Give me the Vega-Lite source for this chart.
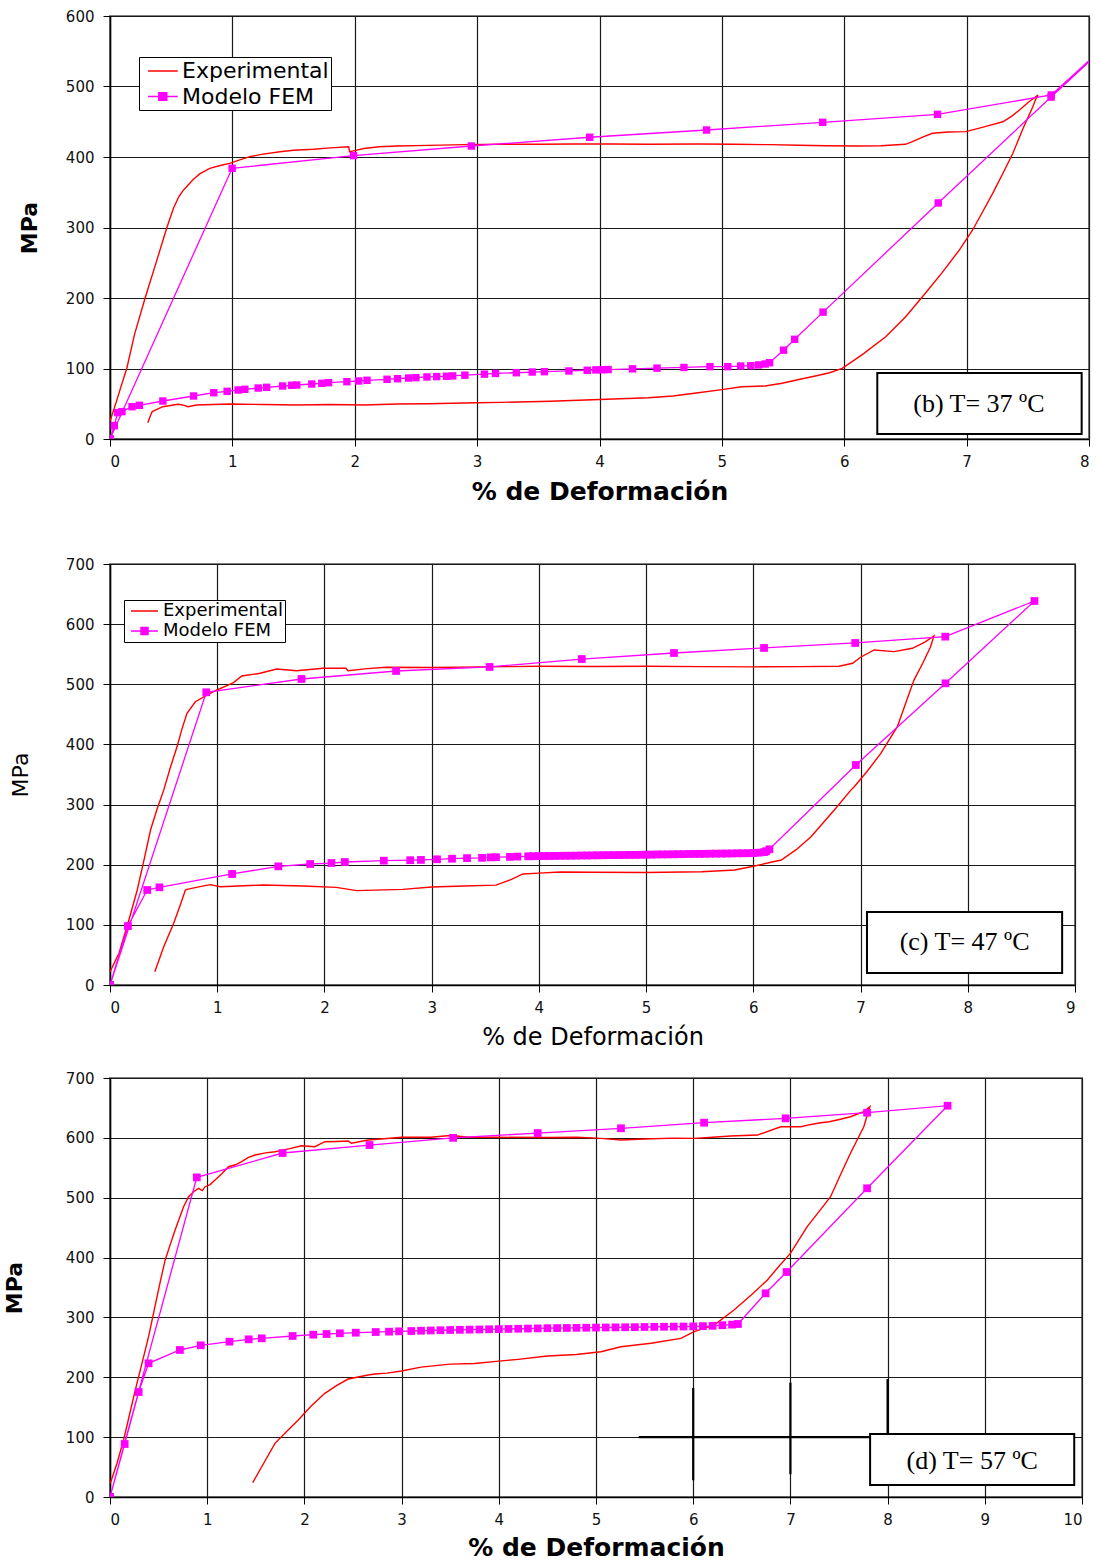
{
"$schema": "https://vega.github.io/schema/vega-lite/v6.json",
"padding": {"left": 2, "top": 8, "right": 5, "bottom": 2},
"background": "white",
"config": {
  "view": {"stroke": "#808080", "strokeWidth": 2},
  "axis": {"grid": true, "gridColor": "#1a1a1a", "gridWidth": 1.2, "domainColor": "black", "domainWidth": 1.5, "tickColor": "black", "tickSize": 7, "labelFont": "DejaVu Sans", "labelFontSize": 15, "labelColor": "#111111", "titleColor": "black", "titleFont": "DejaVu Sans"}
},
"datasets": {
  "e1": [{"x":0,"y":25},{"x":0.05,"y":52},{"x":0.1,"y":80},{"x":0.137,"y":100},{"x":0.2,"y":148},{"x":0.287,"y":200},{"x":0.38,"y":252},{"x":0.465,"y":300},{"x":0.52,"y":328},{"x":0.563,"y":344},{"x":0.6,"y":353},{"x":0.637,"y":360},{"x":0.68,"y":368},{"x":0.733,"y":376},{"x":0.815,"y":384},{"x":0.9,"y":388},{"x":0.979,"y":391},{"x":1.06,"y":396},{"x":1.143,"y":400.5},{"x":1.25,"y":404},{"x":1.389,"y":407.5},{"x":1.5,"y":409.5},{"x":1.663,"y":411},{"x":1.8,"y":413},{"x":1.95,"y":414.6},{"x":1.958,"y":407.5},{"x":2.0,"y":409},{"x":2.073,"y":412},{"x":2.2,"y":414.5},{"x":2.346,"y":415.6},{"x":2.6,"y":416.5},{"x":2.9,"y":417.5},{"x":3.2,"y":418},{"x":3.5,"y":418},{"x":3.8,"y":418.5},{"x":4.1,"y":418.5},{"x":4.4,"y":418},{"x":4.807,"y":418.4},{"x":5.1,"y":418},{"x":5.4,"y":417.5},{"x":5.628,"y":416.6},{"x":5.85,"y":416},{"x":6.093,"y":415.6},{"x":6.3,"y":416},{"x":6.5,"y":418},{"x":6.557,"y":421.7},{"x":6.585,"y":424},{"x":6.65,"y":429},{"x":6.721,"y":433.6},{"x":6.85,"y":435.5},{"x":6.995,"y":436},{"x":7.15,"y":443},{"x":7.296,"y":450},{"x":7.37,"y":458},{"x":7.432,"y":466.7},{"x":7.5,"y":477},{"x":7.583,"y":488},{"x":7.56,"y":480},{"x":7.54,"y":471},{"x":7.46,"y":440},{"x":7.377,"y":405},{"x":7.3,"y":378},{"x":7.213,"y":348.5},{"x":7.13,"y":322},{"x":7.049,"y":296.5},{"x":6.94,"y":268},{"x":6.8,"y":236},{"x":6.639,"y":201.8},{"x":6.5,"y":173},{"x":6.339,"y":145},{"x":6.15,"y":120},{"x":5.983,"y":100.2},{"x":5.88,"y":94},{"x":5.764,"y":89.4},{"x":5.62,"y":84},{"x":5.491,"y":79},{"x":5.354,"y":75.2},{"x":5.162,"y":74.2},{"x":5.0,"y":70},{"x":4.807,"y":65.7},{"x":4.6,"y":61},{"x":4.4,"y":58.5},{"x":4.0,"y":56},{"x":3.6,"y":53.5},{"x":3.2,"y":52},{"x":3.0,"y":51.5},{"x":2.6,"y":50},{"x":2.346,"y":49.6},{"x":2.073,"y":48.2},{"x":1.8,"y":49},{"x":1.526,"y":48.2},{"x":1.252,"y":49},{"x":0.979,"y":49.6},{"x":0.705,"y":48.2},{"x":0.637,"y":45.8},{"x":0.6,"y":48},{"x":0.555,"y":49.2},{"x":0.432,"y":45.8},{"x":0.345,"y":38.8},{"x":0.33,"y":33},{"x":0.309,"y":23}],
  "f1": [{"x":0,"y":0},{"x":0.998,"y":384},{"x":1.99,"y":402},{"x":2.953,"y":415.6},{"x":3.92,"y":428},{"x":4.875,"y":438.3},{"x":5.824,"y":449.2},{"x":6.762,"y":460.5},{"x":7.692,"y":488},{"x":8.6,"y":632},{"x":7.69,"y":485},{"x":6.768,"y":334.8},{"x":5.827,"y":180},{"x":5.595,"y":141.4},{"x":5.504,"y":126},{"x":5.39,"y":108.2},{"x":5.354,"y":106.4},{"x":5.3,"y":105},{"x":5.236,"y":104},{"x":5.154,"y":103.5},{"x":5.048,"y":102.6},{"x":4.903,"y":102.6},{"x":4.69,"y":101.5},{"x":4.47,"y":100.5},{"x":4.27,"y":99.5},{"x":4.07,"y":98.5},{"x":4.02,"y":98.2},{"x":3.97,"y":98},{"x":3.9,"y":97.5},{"x":3.75,"y":96.5},{"x":3.55,"y":95.5},{"x":3.45,"y":95},{"x":3.32,"y":94},{"x":3.15,"y":93},{"x":3.06,"y":92},{"x":2.9,"y":90.5},{"x":2.8,"y":89.5},{"x":2.75,"y":89},{"x":2.67,"y":88.5},{"x":2.59,"y":88},{"x":2.5,"y":87},{"x":2.44,"y":86.5},{"x":2.35,"y":85.5},{"x":2.264,"y":84.7},{"x":2.1,"y":83.3},{"x":2.032,"y":82.3},{"x":1.936,"y":81.3},{"x":1.786,"y":79.9},{"x":1.731,"y":79},{"x":1.649,"y":78},{"x":1.526,"y":76.6},{"x":1.485,"y":76.2},{"x":1.411,"y":75.2},{"x":1.28,"y":73.3},{"x":1.211,"y":72.3},{"x":1.102,"y":70.5},{"x":1.047,"y":69.5},{"x":0.957,"y":67.6},{"x":0.848,"y":65.7},{"x":0.683,"y":61},{"x":0.432,"y":53.9},{"x":0.24,"y":47.8},{"x":0.18,"y":45.8},{"x":0.098,"y":38.8},{"x":0.063,"y":37.4},{"x":0.035,"y":18.9},{"x":0,"y":0}],
  "e2": [{"x":0,"y":22},{"x":0.084,"y":52.7},{"x":0.176,"y":108},{"x":0.254,"y":158},{"x":0.32,"y":210},{"x":0.378,"y":257.7},{"x":0.44,"y":293},{"x":0.501,"y":324},{"x":0.56,"y":360},{"x":0.625,"y":396},{"x":0.67,"y":425},{"x":0.718,"y":451.8},{"x":0.796,"y":471},{"x":0.904,"y":482},{"x":0.997,"y":490.5},{"x":1.08,"y":497},{"x":1.152,"y":502.7},{"x":1.229,"y":513.8},{"x":1.4,"y":518.3},{"x":1.554,"y":525.5},{"x":1.74,"y":522.6},{"x":1.988,"y":526.6},{"x":2.2,"y":526.6},{"x":2.22,"y":522.6},{"x":2.4,"y":526},{"x":2.575,"y":528.3},{"x":3.0,"y":528},{"x":3.5,"y":529},{"x":4.0,"y":530},{"x":4.5,"y":529.5},{"x":5.0,"y":530},{"x":5.517,"y":529.3},{"x":6.0,"y":529},{"x":6.446,"y":529.3},{"x":6.8,"y":530},{"x":6.926,"y":534.9},{"x":7.0,"y":545},{"x":7.127,"y":557},{"x":7.312,"y":554.3},{"x":7.483,"y":559.9},{"x":7.6,"y":570},{"x":7.684,"y":580.3},{"x":7.653,"y":562.5},{"x":7.58,"y":535},{"x":7.498,"y":507},{"x":7.42,"y":468},{"x":7.343,"y":429.5},{"x":7.189,"y":385},{"x":7.06,"y":355},{"x":6.941,"y":329.7},{"x":6.91,"y":324},{"x":6.755,"y":291},{"x":6.538,"y":246.6},{"x":6.4,"y":225},{"x":6.26,"y":207.8},{"x":6.012,"y":197.9},{"x":5.826,"y":191.2},{"x":5.517,"y":188.4},{"x":5.0,"y":187},{"x":4.5,"y":187.5},{"x":4.2,"y":188},{"x":4.0,"y":186},{"x":3.85,"y":184.6},{"x":3.75,"y":176},{"x":3.6,"y":166},{"x":3.3,"y":164.5},{"x":3.0,"y":163},{"x":2.73,"y":159},{"x":2.3,"y":157},{"x":2.11,"y":162.4},{"x":1.8,"y":164.6},{"x":1.43,"y":166.3},{"x":1.028,"y":163.4},{"x":0.935,"y":166.8},{"x":0.85,"y":164},{"x":0.718,"y":159},{"x":0.703,"y":158},{"x":0.65,"y":130},{"x":0.594,"y":102.6},{"x":0.501,"y":63.7},{"x":0.418,"y":22}],
  "f2": [{"x":0,"y":0},{"x":0.898,"y":486.7},{"x":1.786,"y":508.8},{"x":2.668,"y":522.1},{"x":3.54,"y":528.8},{"x":4.4,"y":542},{"x":5.26,"y":552},{"x":6.1,"y":560.4},{"x":6.95,"y":568.7},{"x":7.79,"y":579.2},{"x":8.622,"y":638.5},{"x":7.792,"y":501.6},{"x":6.956,"y":365.8},{"x":6.15,"y":225.6},{"x":6.12,"y":222.5},{"x":6.1,"y":221},{"x":6.05,"y":220},{"x":6.0,"y":219.5},{"x":5.95,"y":219.2},{"x":5.9,"y":219},{"x":5.85,"y":218.9},{"x":5.8,"y":218.8},{"x":5.75,"y":218.6},{"x":5.7,"y":218.5},{"x":5.65,"y":218.4},{"x":5.6,"y":218.3},{"x":5.55,"y":218.1},{"x":5.5,"y":218},{"x":5.45,"y":217.9},{"x":5.4,"y":217.8},{"x":5.35,"y":217.6},{"x":5.3,"y":217.5},{"x":5.25,"y":217.3},{"x":5.2,"y":217.2},{"x":5.15,"y":217.1},{"x":5.1,"y":217},{"x":5.05,"y":216.8},{"x":5.0,"y":216.7},{"x":4.95,"y":216.5},{"x":4.9,"y":216.4},{"x":4.85,"y":216.3},{"x":4.8,"y":216.2},{"x":4.75,"y":216.1},{"x":4.7,"y":216},{"x":4.65,"y":215.9},{"x":4.6,"y":215.8},{"x":4.55,"y":215.6},{"x":4.5,"y":215.5},{"x":4.45,"y":215.4},{"x":4.4,"y":215.3},{"x":4.35,"y":215.1},{"x":4.3,"y":215},{"x":4.25,"y":214.9},{"x":4.2,"y":214.8},{"x":4.15,"y":214.6},{"x":4.1,"y":214.5},{"x":4.05,"y":214.4},{"x":4.0,"y":214.3},{"x":3.95,"y":214.1},{"x":3.9,"y":214},{"x":3.8,"y":213.5},{"x":3.73,"y":213},{"x":3.6,"y":212.5},{"x":3.55,"y":212.2},{"x":3.47,"y":211.5},{"x":3.33,"y":211},{"x":3.19,"y":210},{"x":3.05,"y":209},{"x":2.9,"y":208},{"x":2.8,"y":207.5},{"x":2.554,"y":206.7},{"x":2.19,"y":204.5},{"x":2.065,"y":202.8},{"x":1.867,"y":201.2},{"x":1.57,"y":197.3},{"x":1.139,"y":184.6},{"x":0.461,"y":162.4},{"x":0.347,"y":158},{"x":0.167,"y":98},{"x":0,"y":0}],
  "e3": [{"x":0.003,"y":22.9},{"x":0.072,"y":56.3},{"x":0.14,"y":95.2},{"x":0.2,"y":137},{"x":0.26,"y":178.7},{"x":0.33,"y":224},{"x":0.397,"y":267.8},{"x":0.465,"y":320},{"x":0.52,"y":362},{"x":0.568,"y":396},{"x":0.62,"y":422},{"x":0.67,"y":446},{"x":0.757,"y":485},{"x":0.808,"y":501.7},{"x":0.86,"y":510},{"x":0.911,"y":515.7},{"x":0.95,"y":512},{"x":0.978,"y":518.4},{"x":1.03,"y":522},{"x":1.081,"y":529.6},{"x":1.15,"y":540},{"x":1.219,"y":551.8},{"x":1.29,"y":555},{"x":1.355,"y":560.2},{"x":1.42,"y":567},{"x":1.492,"y":571.3},{"x":1.6,"y":575},{"x":1.697,"y":576.9},{"x":1.85,"y":582},{"x":1.971,"y":586.9},{"x":2.108,"y":585.2},{"x":2.21,"y":593.5},{"x":2.33,"y":594},{"x":2.45,"y":594.7},{"x":2.485,"y":590.9},{"x":2.656,"y":596.4},{"x":2.85,"y":599},{"x":3.0,"y":600.9},{"x":3.3,"y":601},{"x":3.5,"y":604},{"x":3.7,"y":601},{"x":4.0,"y":601},{"x":4.5,"y":600.5},{"x":4.8,"y":601},{"x":5.051,"y":599.2},{"x":5.257,"y":596.4},{"x":5.5,"y":598},{"x":5.8,"y":599.5},{"x":6.01,"y":599.2},{"x":6.2,"y":601},{"x":6.386,"y":603},{"x":6.66,"y":604.7},{"x":6.9,"y":618.6},{"x":7.105,"y":618.6},{"x":7.2,"y":622},{"x":7.31,"y":625.3},{"x":7.4,"y":627},{"x":7.515,"y":631},{"x":7.618,"y":635.3},{"x":7.755,"y":643.7},{"x":7.817,"y":652},{"x":7.755,"y":618.6},{"x":7.618,"y":574.2},{"x":7.52,"y":540},{"x":7.413,"y":501.7},{"x":7.3,"y":478},{"x":7.173,"y":451.6},{"x":7.0,"y":407},{"x":6.88,"y":385},{"x":6.763,"y":362.5},{"x":6.6,"y":338},{"x":6.42,"y":312.4},{"x":6.215,"y":287.3},{"x":6.01,"y":276.2},{"x":5.873,"y":265.1},{"x":5.565,"y":256.8},{"x":5.257,"y":251.1},{"x":5.051,"y":242.7},{"x":4.8,"y":238},{"x":4.5,"y":235.5},{"x":4.2,"y":230},{"x":4.0,"y":227},{"x":3.75,"y":223},{"x":3.5,"y":222},{"x":3.2,"y":217},{"x":2.998,"y":210.5},{"x":2.85,"y":207},{"x":2.724,"y":205.5},{"x":2.656,"y":203.8},{"x":2.45,"y":197.1},{"x":2.33,"y":186},{"x":2.21,"y":173.2},{"x":2.07,"y":152},{"x":1.937,"y":128.6},{"x":1.82,"y":110},{"x":1.697,"y":89.7},{"x":1.58,"y":56},{"x":1.468,"y":23.9}],
  "f3": [{"x":0,"y":0},{"x":0.893,"y":534},{"x":1.776,"y":574.7},{"x":2.67,"y":588},{"x":3.53,"y":600},{"x":4.4,"y":608},{"x":5.257,"y":616},{"x":6.112,"y":625.3},{"x":6.951,"y":632.6},{"x":7.789,"y":642},{"x":8.617,"y":653.7},{"x":7.789,"y":515.7},{"x":6.961,"y":375.9},{"x":6.745,"y":340.3},{"x":6.46,"y":289},{"x":6.4,"y":288},{"x":6.3,"y":287},{"x":6.2,"y":286},{"x":6.1,"y":285.5},{"x":6.0,"y":285},{"x":5.9,"y":284.8},{"x":5.8,"y":284.6},{"x":5.7,"y":284.4},{"x":5.6,"y":284.2},{"x":5.5,"y":284},{"x":5.4,"y":283.8},{"x":5.3,"y":283.6},{"x":5.2,"y":283.4},{"x":5.1,"y":283.2},{"x":5.0,"y":283},{"x":4.9,"y":282.8},{"x":4.8,"y":282.6},{"x":4.7,"y":282.4},{"x":4.6,"y":282.2},{"x":4.5,"y":282},{"x":4.4,"y":281.7},{"x":4.3,"y":281.4},{"x":4.2,"y":281.1},{"x":4.1,"y":280.8},{"x":4.0,"y":280.5},{"x":3.9,"y":280.2},{"x":3.8,"y":279.9},{"x":3.7,"y":279.6},{"x":3.6,"y":279.3},{"x":3.5,"y":279},{"x":3.4,"y":278.6},{"x":3.3,"y":278.2},{"x":3.2,"y":277.8},{"x":3.1,"y":277.3},{"x":2.974,"y":276.8},{"x":2.871,"y":276.2},{"x":2.734,"y":275.6},{"x":2.529,"y":274.5},{"x":2.365,"y":273.5},{"x":2.228,"y":272.3},{"x":2.091,"y":271.2},{"x":1.879,"y":269},{"x":1.561,"y":265.1},{"x":1.427,"y":263.4},{"x":1.229,"y":259.5},{"x":0.934,"y":253.4},{"x":0.719,"y":245.6},{"x":0.397,"y":223.3},{"x":0.295,"y":175.4},{"x":0.151,"y":88.5},{"x":0,"y":0}],
  "cross": [{"x":5.44,"y":100,"x2":8.0,"y2":100},{"x":6,"y":182,"x2":6,"y2":28},{"x":7,"y":191,"x2":7,"y2":38},{"x":8,"y":197,"x2":8,"y2":100}]
},
"spacing": 51,
"resolve": {"scale": {"color": "independent"}, "legend": {"color": "independent"}},
"vconcat": [
  {
    "width": 979, "height": 423,
    "layer": [
      {"data": {"name": "e1"}, "mark": {"type": "line", "strokeWidth": 1.4, "clip": true, "order": false},
       "encoding": {
         "x": {"field": "x", "type": "quantitative", "scale": {"domain": [0, 8], "nice": false, "zero": false}, "axis": {"values": [0,1,2,3,4,5,6,7,8], "format": "d", "title": "% de Deformación", "titleFontSize": 25, "titleFontWeight": "bold", "titlePadding": 10, "labelPadding": 8}},
         "y": {"field": "y", "type": "quantitative", "scale": {"domain": [0, 600], "nice": false}, "axis": {"values": [0,100,200,300,400,500,600], "format": "d", "title": "MPa", "titleFontSize": 22, "titleFontWeight": "bold", "titlePadding": 24, "labelPadding": 9}},
         "color": {"datum": "Experimental", "scale": {"domain": ["Experimental", "Modelo FEM"], "range": ["#ff0000", "#ff00ff"]},
           "legend": {"orient": "none", "legendX": 29, "legendY": 41, "title": null, "fillColor": "white", "strokeColor": "black", "padding": 2, "labelFont": "DejaVu Sans", "labelFontSize": 22, "labelColor": "black", "labelOffset": 17, "symbolSize": 484, "symbolStrokeWidth": 1.5, "rowPadding": 2.5,
             "encoding": {"symbols": {"shape": {"value": {"expr": "datum.value === 'Modelo FEM' ? 'M-0.45,0H2.25M0.53,-0.33H1.25V0.33H0.53Z' : 'M-0.45,0H2.25'"}}, "fill": {"value": {"expr": "datum.value === 'Modelo FEM' ? '#ff00ff' : 'transparent'"}}, "stroke": {"value": {"expr": "datum.value === 'Modelo FEM' ? '#ff00ff' : '#ff0000'"}}}}}}
       }},
      {"data": {"name": "f1"}, "mark": {"type": "line", "strokeWidth": 1.3, "clip": true, "order": false},
       "encoding": {"x": {"field": "x", "type": "quantitative"}, "y": {"field": "y", "type": "quantitative"}, "color": {"datum": "Modelo FEM"}}},
      {"data": {"name": "f1"}, "mark": {"type": "point", "shape": "square", "filled": true, "color": "#ff00ff", "size": 55, "opacity": 1, "clip": true},
       "encoding": {"x": {"field": "x", "type": "quantitative"}, "y": {"field": "y", "type": "quantitative"}}},
      {"data": {"values": [{}]}, "mark": {"type": "rect", "fill": "white", "stroke": "black", "strokeWidth": 2},
       "encoding": {"x": {"datum": 6.27, "type": "quantitative"}, "x2": {"datum": 7.94}, "y": {"datum": 93.6, "type": "quantitative"}, "y2": {"datum": 7.1}}},
      {"data": {"values": [{}]}, "mark": {"type": "text", "text": "(b) T= 37 ºC", "font": "Liberation Serif", "fontSize": 26, "color": "black", "align": "center", "baseline": "middle"},
       "encoding": {"x": {"datum": 7.1, "type": "quantitative"}, "y": {"datum": 50, "type": "quantitative"}}}
    ]
  },
  {
    "spacing": 20,
    "resolve": {"scale": {"color": "independent"}, "legend": {"color": "independent"}},
    "vconcat": [
      {
        "width": 965, "height": 421,
        "layer": [
          {"data": {"name": "e2"}, "mark": {"type": "line", "strokeWidth": 1.4, "clip": true, "order": false},
           "encoding": {
             "x": {"field": "x", "type": "quantitative", "scale": {"domain": [0, 9], "nice": false, "zero": false}, "axis": {"values": [0,1,2,3,4,5,6,7,8,9], "format": "d", "title": "% de Deformación", "titleFontSize": 24, "titleFontWeight": "normal", "titlePadding": 10, "labelPadding": 8}},
             "y": {"field": "y", "type": "quantitative", "scale": {"domain": [0, 700], "nice": false}, "axis": {"values": [0,100,200,300,400,500,600,700], "format": "d", "title": "MPa", "titleFontSize": 22, "titleFontWeight": "normal", "titlePadding": 33, "labelPadding": 9}},
             "color": {"datum": "Experimental", "scale": {"domain": ["Experimental", "Modelo FEM"], "range": ["#ff0000", "#ff00ff"]},
               "legend": {"orient": "none", "legendX": 14, "legendY": 36, "title": null, "fillColor": "white", "strokeColor": "black", "padding": 1.5, "labelFont": "DejaVu Sans", "labelFontSize": 18, "labelColor": "black", "labelOffset": 18.5, "symbolSize": 289, "symbolStrokeWidth": 1.5, "rowPadding": 1,
                 "encoding": {"symbols": {"shape": {"value": {"expr": "datum.value === 'Modelo FEM' ? 'M-0.47,0H2.7M0.71,-0.41H1.53V0.41H0.71Z' : 'M-0.47,0H2.7'"}}, "fill": {"value": {"expr": "datum.value === 'Modelo FEM' ? '#ff00ff' : 'transparent'"}}, "stroke": {"value": {"expr": "datum.value === 'Modelo FEM' ? '#ff00ff' : '#ff0000'"}}}}}}
           }},
          {"data": {"name": "f2"}, "mark": {"type": "line", "strokeWidth": 1.3, "clip": true, "order": false},
           "encoding": {"x": {"field": "x", "type": "quantitative"}, "y": {"field": "y", "type": "quantitative"}, "color": {"datum": "Modelo FEM"}}},
          {"data": {"name": "f2"}, "mark": {"type": "point", "shape": "square", "filled": true, "color": "#ff00ff", "size": 60, "opacity": 1, "clip": true},
           "encoding": {"x": {"field": "x", "type": "quantitative"}, "y": {"field": "y", "type": "quantitative"}}},
          {"data": {"values": [{}]}, "mark": {"type": "rect", "fill": "white", "stroke": "black", "strokeWidth": 2},
           "encoding": {"x": {"datum": 7.06, "type": "quantitative"}, "x2": {"datum": 8.88}, "y": {"datum": 121.4, "type": "quantitative"}, "y2": {"datum": 20}}},
          {"data": {"values": [{}]}, "mark": {"type": "text", "text": "(c) T= 47 ºC", "font": "Liberation Serif", "fontSize": 26, "color": "black", "align": "center", "baseline": "middle"},
           "encoding": {"x": {"datum": 7.97, "type": "quantitative"}, "y": {"datum": 72, "type": "quantitative"}}}
        ]
      },
      {
        "width": 972, "height": 419,
        "layer": [
          {"data": {"name": "cross"}, "mark": {"type": "rule", "color": "black", "strokeWidth": 2.2},
           "encoding": {"x": {"field": "x", "type": "quantitative", "scale": {"domain": [0, 10], "nice": false, "zero": false}, "axis": {"values": [0,1,2,3,4,5,6,7,8,9,10], "format": "d", "title": "% de Deformación", "titleFontSize": 25, "titleFontWeight": "bold", "titlePadding": 8, "labelPadding": 8}},
             "y": {"field": "y", "type": "quantitative", "scale": {"domain": [0, 700], "nice": false}, "axis": {"values": [0,100,200,300,400,500,600,700], "format": "d", "title": "MPa", "titleFontSize": 22, "titleFontWeight": "bold", "titlePadding": 39, "labelPadding": 9}},
             "x2": {"field": "x2"}, "y2": {"field": "y2"}}},
          {"data": {"name": "e3"}, "mark": {"type": "line", "strokeWidth": 1.4, "clip": true, "order": false, "color": "#ff0000"},
           "encoding": {"x": {"field": "x", "type": "quantitative"}, "y": {"field": "y", "type": "quantitative"}}},
          {"data": {"name": "f3"}, "mark": {"type": "line", "strokeWidth": 1.3, "clip": true, "order": false, "color": "#ff00ff"},
           "encoding": {"x": {"field": "x", "type": "quantitative"}, "y": {"field": "y", "type": "quantitative"}}},
          {"data": {"name": "f3"}, "mark": {"type": "point", "shape": "square", "filled": true, "color": "#ff00ff", "size": 60, "opacity": 1, "clip": true},
           "encoding": {"x": {"field": "x", "type": "quantitative"}, "y": {"field": "y", "type": "quantitative"}}},
          {"data": {"values": [{}]}, "mark": {"type": "rect", "fill": "white", "stroke": "black", "strokeWidth": 2},
           "encoding": {"x": {"datum": 7.82, "type": "quantitative"}, "x2": {"datum": 9.92}, "y": {"datum": 105.2, "type": "quantitative"}, "y2": {"datum": 20}}},
          {"data": {"values": [{}]}, "mark": {"type": "text", "text": "(d) T= 57 ºC", "font": "Liberation Serif", "fontSize": 26, "color": "black", "align": "center", "baseline": "middle"},
           "encoding": {"x": {"datum": 8.87, "type": "quantitative"}, "y": {"datum": 60, "type": "quantitative"}}}
        ]
      }
    ]
  }
]
}
